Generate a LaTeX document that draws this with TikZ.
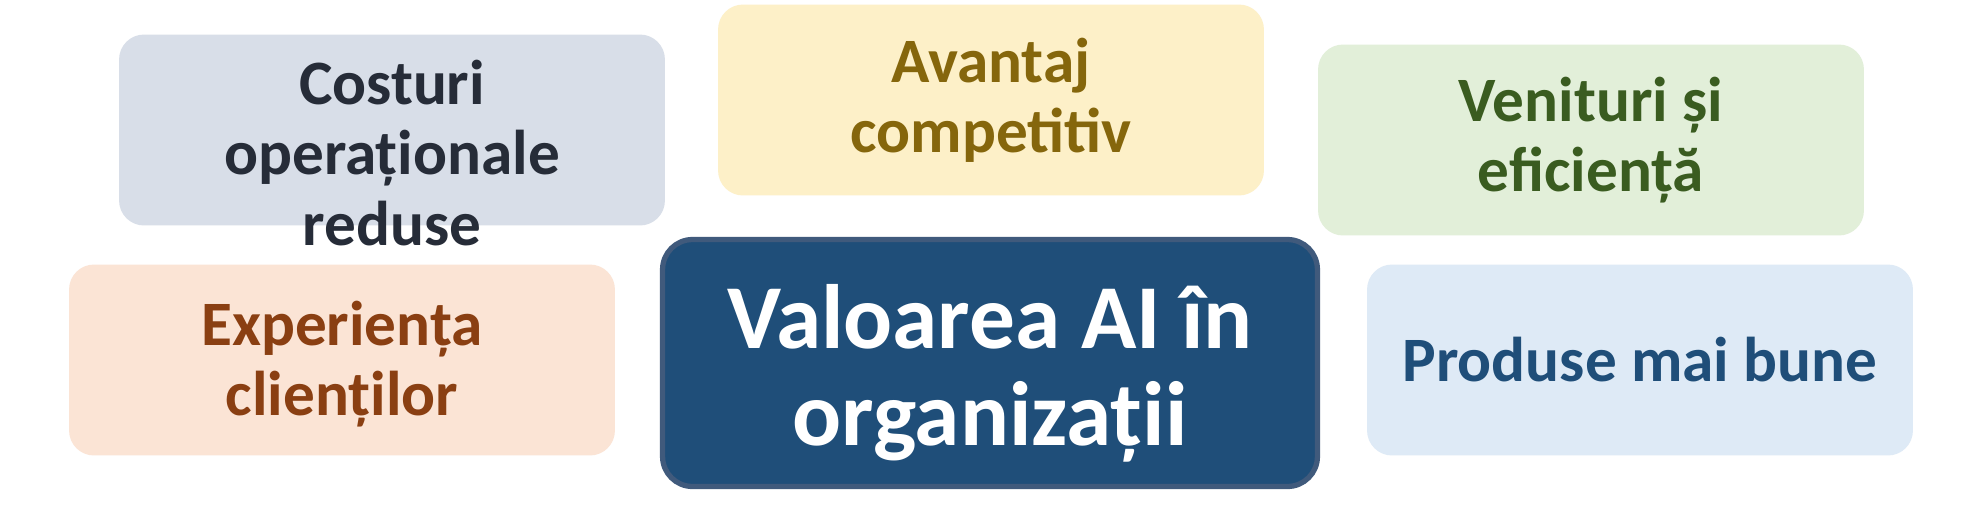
\documentclass[tikz,border=0pt]{standalone}
\usepackage{fontspec}
\setmainfont{Carlito}
\definecolor{grayfill}{HTML}{D8DEE8}
\definecolor{graytext}{HTML}{262C38}
\definecolor{goldfill}{HTML}{FDF0C8}
\definecolor{goldtext}{HTML}{85660C}
\definecolor{greenfill}{HTML}{E2EFD9}
\definecolor{greentext}{HTML}{3A5C20}
\definecolor{peachfill}{HTML}{FBE4D5}
\definecolor{peachtext}{HTML}{8A3F12}
\definecolor{bluefill}{HTML}{DEEAF6}
\definecolor{bluetext}{HTML}{1F4E79}
\definecolor{navyfill}{HTML}{1F4E79}
\definecolor{navyline}{HTML}{405A7C}
\begin{document}
\begin{tikzpicture}[x=0.02cm,y=-0.02cm,
  box/.style={rectangle,rounded corners=0.5cm,minimum width=10.92cm,minimum height=3.82cm,inner sep=0pt},
  lbl/.style={align=center,font=\fontsize{36}{40}\selectfont\bfseries},
  core/.style={rectangle,rounded corners=0.6cm,minimum width=13.1cm,minimum height=4.94cm,
    fill=navyfill,draw=navyline,line width=3pt},
  corelbl/.style={text=white,align=center,font=\fontsize{52}{55}\selectfont\bfseries}]
 \useasboundingbox[fill=white] (0,0) rectangle (1969,528);
 \node[box,fill=grayfill] (costuri) at (392,130) {};
 \node[lbl,text=graytext] (costuri-t) at ([yshift=-0.46cm]costuri.center) {Costuri\\operaționale\\reduse};
 \node[box,fill=goldfill] (avantaj) at (991,100) {};
 \node[lbl,text=goldtext] (avantaj-t) at (avantaj.center) {Avantaj\\competitiv};
 \node[box,fill=greenfill] (venituri) at (1591,140) {};
 \node[lbl,text=greentext] (venituri-t) at (venituri.center) {Venituri și\\eficiență};
 \node[box,fill=peachfill] (clienti) at (342,360) {};
 \node[lbl,text=peachtext] (clienti-t) at ([yshift=-0.08cm]clienti.center) {Experiența\\clienților};
 \node[box,fill=bluefill] (produse) at (1640,360) {};
 \node[lbl,text=bluetext] (produse-t) at (produse.center) {Produse mai bune};
 \node[core] (valoare) at (990,363) {};
 \node[corelbl] (valoare-t) at ([yshift=-0.2cm]valoare.center) {Valoarea AI în\\organizații};
\end{tikzpicture}
\end{document}
